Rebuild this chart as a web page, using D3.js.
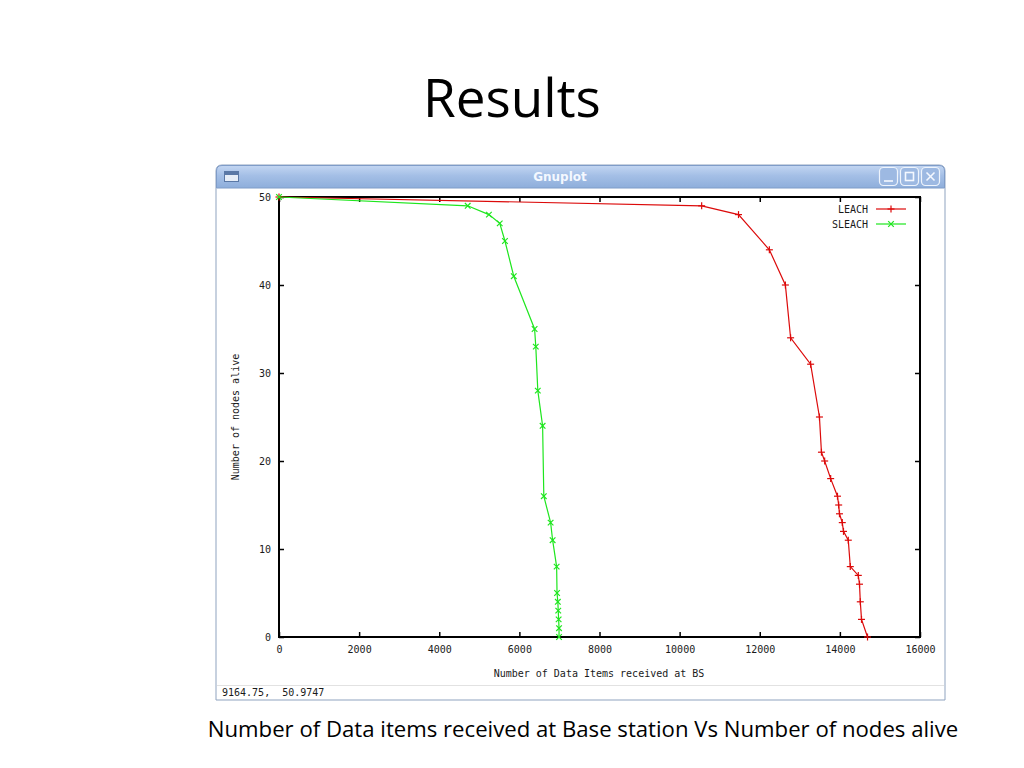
<!DOCTYPE html>
<html>
<head>
<meta charset="utf-8">
<script src="https://cdn.jsdelivr.net/npm/d3@7"></script>
<style>
  html, body { margin: 0; padding: 0; background: #fff; }
  svg { display: block; }
  .gp { font-family: "DejaVu Sans Mono", "Liberation Mono", monospace; font-size: 10px; fill: #1a1a1a; }
</style>
</head>
<body>
<svg id="slide" width="1024" height="768"></svg>
<script>
// LEACH: data items received at BS vs nodes alive
const leachX = [0, 10550, 11470, 12240, 12640, 12770, 13270, 13490, 13540, 13620, 13770, 13940, 13970, 13990, 14060, 14090, 14210, 14260, 14460, 14490, 14510, 14540, 14690]
const leachY = [50, 49, 48, 44, 40, 34, 31, 25, 21, 20, 18, 16, 15, 14, 13, 12, 11, 8, 7, 6, 4, 2, 0]

// SLEACH
const sleachX = [0, 4710, 5240, 5510, 5640, 5860, 6380, 6410, 6460, 6580, 6610, 6780, 6830, 6930, 6940, 6960, 6970, 6980, 6990, 6990]
const sleachY = [50, 49, 48, 47, 45, 41, 35, 33, 28, 24, 16, 13, 11, 8, 5, 4, 3, 2, 1, 0]

const xTicks = [0, 2000, 4000, 6000, 8000, 10000, 12000, 14000, 16000]
const yTicks = [0, 10, 20, 30, 40, 50]

const series = [
  { name: 'LEACH', xs: leachX, ys: leachY, color: '#dc0a0a', marker: 'plus' },
  { name: 'SLEACH', xs: sleachX, ys: sleachY, color: '#1ee61e', marker: 'cross' },
]

const svg = d3.select('#slide')

// slide title + caption
svg.append('text')
  .attr('x', 512).attr('y', 117)
  .attr('text-anchor', 'middle')
  .style('font-family', '"Open Sans", sans-serif')
  .style('font-size', '53px')
  .style('fill', '#000')
  .text('Results')

const caption = svg.append('text')
  .attr('x', 583).attr('y', 737)
  .attr('text-anchor', 'middle')
  .style('font-family', '"Open Sans", sans-serif')
  .style('font-size', '20px')
  .style('fill', '#000')
  .text('Number of Data items received at Base station Vs Number of nodes alive')
const capW = caption.node().getComputedTextLength()
caption.style('font-size', (20 * 751 / capW) + 'px')

// window frame
const win = { x: 216, y: 165, w: 729, h: 535 }
const defs = svg.append('defs')
const grad = defs.append('linearGradient').attr('id', 'tbar').attr('x1', 0).attr('y1', 0).attr('x2', 0).attr('y2', 1)
grad.append('stop').attr('offset', '0%').attr('stop-color', '#c3d6f2')
grad.append('stop').attr('offset', '45%').attr('stop-color', '#a4bfe6')
grad.append('stop').attr('offset', '100%').attr('stop-color', '#8eaedb')

svg.append('path')
  .attr('d', `M${win.x},${win.y + win.h} V${win.y + 6} Q${win.x},${win.y} ${win.x + 6},${win.y}
    H${win.x + win.w - 6} Q${win.x + win.w},${win.y} ${win.x + win.w},${win.y + 6} V${win.y + win.h} Z`)
  .attr('fill', '#fff')
  .attr('stroke', '#8fa3bf')
  .attr('stroke-width', 1)

svg.append('path')
  .attr('d', `M${win.x + 0.5},188 V${win.y + 6} Q${win.x + 0.5},${win.y + 0.5} ${win.x + 6},${win.y + 0.5}
    H${win.x + win.w - 6} Q${win.x + win.w - 0.5},${win.y + 0.5} ${win.x + win.w - 0.5},${win.y + 6} V188 Z`)
  .attr('fill', 'url(#tbar)')
  .attr('stroke', '#7f9cc8')
  .attr('stroke-width', 1)

// window icon
svg.append('rect').attr('x', 224.5).attr('y', 171.5).attr('width', 14).attr('height', 10)
  .attr('fill', '#e6edf7').attr('stroke', '#5a78a6')
svg.append('rect').attr('x', 225).attr('y', 172).attr('width', 13).attr('height', 3).attr('fill', '#5a78a6')

svg.append('text')
  .attr('x', 560).attr('y', 181)
  .attr('text-anchor', 'middle')
  .style('font-family', '"DejaVu Sans", sans-serif')
  .style('font-size', '12px')
  .style('font-weight', 'bold')
  .style('fill', '#f4f8ff')
  .text('Gnuplot')

const btnX = [879, 900, 921]
btnX.forEach((bx, i) => {
  svg.append('rect').attr('x', bx + 0.5).attr('y', 167.5).attr('width', 18).attr('height', 18).attr('rx', 4)
    .attr('fill', '#9db9e2').attr('stroke', '#eef4fc').attr('stroke-width', 1.2)
  const g = svg.append('g').attr('stroke', '#f4f8ff').attr('stroke-width', 1.6).attr('fill', 'none')
  if (i === 0) g.append('line').attr('x1', bx + 5).attr('x2', bx + 14).attr('y1', 181).attr('y2', 181)
  if (i === 1) g.append('rect').attr('x', bx + 5.5).attr('y', 172.5).attr('width', 8).attr('height', 8)
  if (i === 2) {
    g.append('line').attr('x1', bx + 5.5).attr('x2', bx + 13.5).attr('y1', 172.5).attr('y2', 180.5)
    g.append('line').attr('x1', bx + 13.5).attr('x2', bx + 5.5).attr('y1', 172.5).attr('y2', 180.5)
  }
})

// status bar
svg.append('line').attr('x1', 217).attr('x2', 944).attr('y1', 685.5).attr('y2', 685.5)
  .attr('stroke', '#e2e2e2')
svg.append('text').attr('class', 'gp')
  .attr('x', 222).attr('y', 696)
  .text('9164.75,\u00a0\u00a050.9747')

// plot
const x = d3.scaleLinear().domain([0, 16000]).range([279, 920])
const y = d3.scaleLinear().domain([0, 50]).range([637, 197])

const axisStyle = g => {
  g.select('.domain').remove()
  g.selectAll('.tick line').attr('stroke', '#000').attr('stroke-width', 1.5)
  g.selectAll('.tick text').attr('class', 'gp')
  g.attr('font-family', null).attr('font-size', null)
}

svg.append('g').attr('transform', 'translate(0,637)')
  .call(d3.axisBottom(x).tickValues(xTicks).tickSize(-5).tickPadding(9).tickFormat(d3.format('d')))
  .call(axisStyle)
svg.append('g').attr('transform', 'translate(0,197)')
  .call(d3.axisTop(x).tickValues(xTicks).tickSize(-5).tickFormat(''))
  .call(axisStyle)
svg.append('g').attr('transform', 'translate(279,0)')
  .call(d3.axisLeft(y).tickValues(yTicks).tickSize(-5).tickPadding(8))
  .call(axisStyle)
svg.append('g').attr('transform', 'translate(920,0)')
  .call(d3.axisRight(y).tickValues(yTicks).tickSize(-5).tickFormat(''))
  .call(axisStyle)

svg.append('rect')
  .attr('x', x(0)).attr('y', y(50))
  .attr('width', x(16000) - x(0)).attr('height', y(0) - y(50))
  .attr('fill', 'none').attr('stroke', '#000').attr('stroke-width', 2)

svg.append('text').attr('class', 'gp')
  .attr('x', 599).attr('y', 677)
  .attr('text-anchor', 'middle')
  .text('Number of Data Items received at BS')

svg.append('text').attr('class', 'gp')
  .attr('transform', 'translate(239,417) rotate(-90)')
  .attr('text-anchor', 'middle')
  .text('Number of nodes alive')

const line = d3.line().x(d => x(d[0])).y(d => y(d[1]))

const drawMarker = (g, cx, cy, kind, color) => {
  const s = 3.5
  const m = g.append('g').attr('stroke', color).attr('stroke-width', 1.2)
  if (kind === 'plus') {
    m.append('line').attr('x1', cx - s).attr('x2', cx + s).attr('y1', cy).attr('y2', cy)
    m.append('line').attr('x1', cx).attr('x2', cx).attr('y1', cy - s).attr('y2', cy + s)
  } else {
    const t = 2.8
    m.append('line').attr('x1', cx - t).attr('x2', cx + t).attr('y1', cy - t).attr('y2', cy + t)
    m.append('line').attr('x1', cx - t).attr('x2', cx + t).attr('y1', cy + t).attr('y2', cy - t)
  }
}

const plot = svg.append('g')
series.forEach((s, si) => {
  const pts = s.xs.map((v, i) => [v, s.ys[i]])
  plot.append('path')
    .datum(pts)
    .attr('d', line)
    .attr('fill', 'none')
    .attr('stroke', s.color)
    .attr('stroke-width', 1.2)
  pts.forEach(p => drawMarker(plot, x(p[0]), y(p[1]), s.marker, s.color))

  // legend entry
  const ly = 209 + si * 15
  svg.append('text').attr('class', 'gp')
    .attr('x', 868).attr('y', ly + 4)
    .attr('text-anchor', 'end')
    .text(s.name)
  svg.append('line').attr('x1', 876).attr('x2', 906).attr('y1', ly).attr('y2', ly)
    .attr('stroke', s.color).attr('stroke-width', 1.2)
  drawMarker(svg, 891, ly, s.marker, s.color)
})
</script>
</body>
</html>
